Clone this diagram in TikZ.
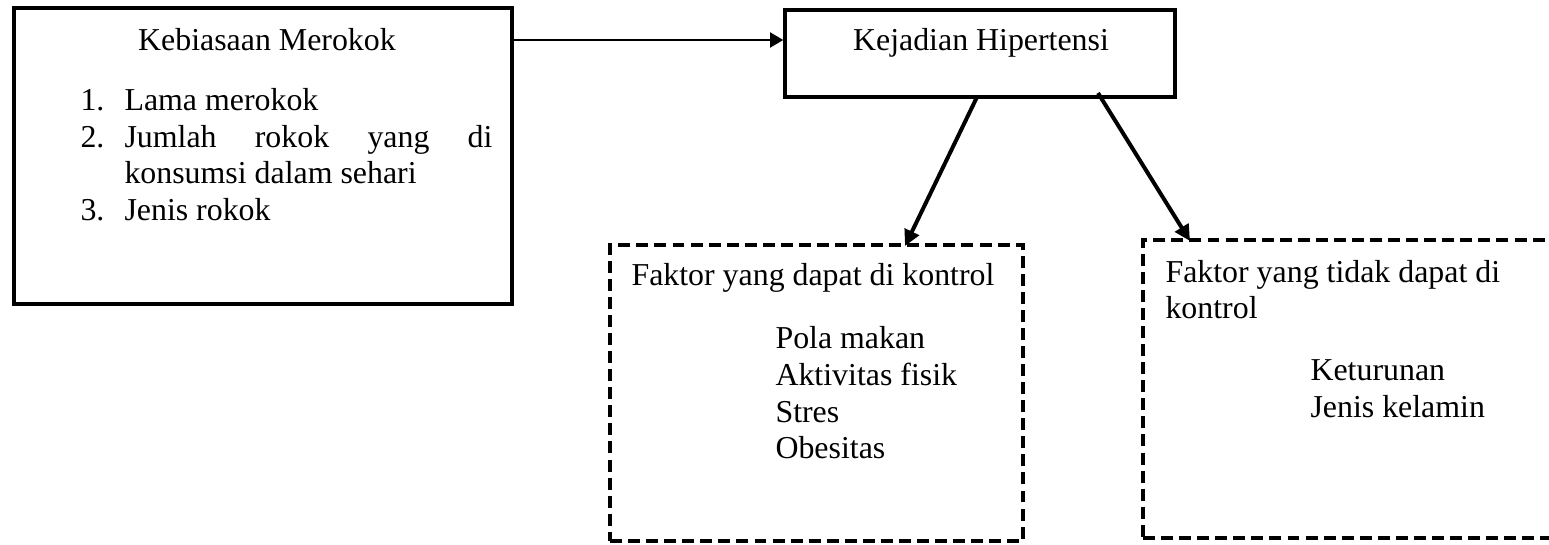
\documentclass[tikz,border=0pt]{standalone}
\usepackage{fontspec}
\setmainfont{Liberation Serif}
\usetikzlibrary{arrows.meta}
\def\u{0.3765pt}
\tikzset{
  solidbox/.style={draw=black, line width=1.3pt, inner sep=0pt, minimum width={#1*\u}},
  dashbox/.style={draw=black, line width=1.5pt, dash pattern=on 4.5pt off 2.3pt, inner sep=0pt},
  txt/.style={anchor=base west, inner sep=0pt, font=\fontsize{12}{13.8}\selectfont},
  ctxt/.style={anchor=base, inner sep=0pt, font=\fontsize{12}{13.8}\selectfont},
  thinarrow/.style={line width=1pt, -{Triangle[length=5pt,width=5.6pt]}},
  thickarrow/.style={line width=1.5pt, -{Triangle[length=6pt,width=5.8pt]}}
}
\begin{document}
\begin{tikzpicture}[x=0.3765pt,y=-0.3765pt]
\useasboundingbox (0,0) rectangle (1549,544);
\clip (0,0) rectangle (1549,544);
% boxes
\node[solidbox=498, minimum height={296*\u}] (smoke) at (263,156) {};
\node[solidbox=390, minimum height={87*\u}] (hip) at (980,53.5) {};
\node[dashbox, minimum width={413*\u}, minimum height={296*\u}] (ctrl) at (816.5,393) {};
\node[dashbox, minimum width={413*\u}, minimum height={298*\u}] (nctrl) at (1349.5,389) {};
% texts left box
\node[ctxt] (t1) at (267,50) {Kebiasaan Merokok};
\node[txt] (n1) at (80,110) {1.};
\node[txt] (i1) at (124,110) {Lama merokok};
\node[txt] (n2) at (80,147) {2.};
\node[txt] (i2) at (124,147) {\makebox[138.55pt][s]{Jumlah\hfill rokok\hfill yang\hfill di}};
\node[txt] (i2b) at (124,183) {konsumsi dalam sehari};
\node[txt] (n3) at (80,220) {3.};
\node[txt] (i3) at (124,220) {Jenis rokok};
% middle
\node[ctxt] (t2) at (981,50) {Kejadian Hipertensi};
% controllable
\node[txt] (c0) at (631,285) {Faktor yang dapat di kontrol};
\node[txt] (c1) at (775,348) {Pola makan};
\node[txt] (c2) at (775,385) {Aktivitas fisik};
\node[txt] (c3) at (775,422) {Stres};
\node[txt] (c4) at (775,458) {Obesitas};
% not controllable
\node[txt] (u0) at (1165,282) {Faktor yang tidak dapat di};
\node[txt] (u0b) at (1165,318) {kontrol};
\node[txt] (u1) at (1310,380) {Keturunan};
\node[txt] (u2) at (1310,417) {Jenis kelamin};
% connector points
\coordinate (s1) at (smoke.east |- 0,40);
\coordinate (h1) at (hip.west |- 0,40);
\coordinate (h2) at (977,97);
\coordinate (h3) at (1098,93);
\coordinate (c5) at (905,246);
\coordinate (u5) at (1190,241);
\draw[thinarrow] (s1) -- (h1);
\draw[thickarrow] (h2) -- (c5);
\draw[thickarrow] (h3) -- (u5);
\end{tikzpicture}
\end{document}
